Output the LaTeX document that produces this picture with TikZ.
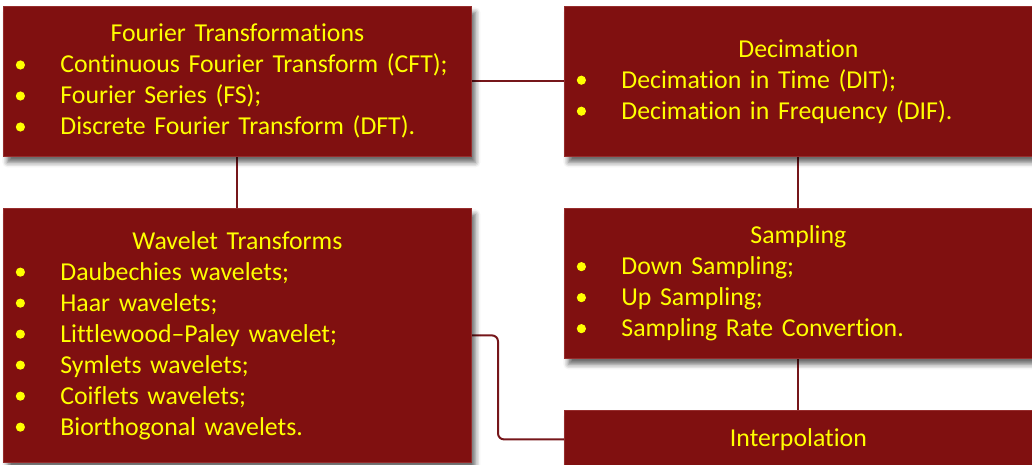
\documentclass[tikz,border=0pt]{standalone}
\usepackage{fontspec}
\setmainfont{Carlito}[Ligatures=NoCommon]
\usetikzlibrary{shadows.blur,backgrounds}
\definecolor{boxred}{RGB}{128,16,16}
\definecolor{boxedge}{RGB}{150,45,45}
\definecolor{linkred}{RGB}{118,22,26}
\definecolor{txtyellow}{RGB}{255,255,0}
% yellow round bullet, centred 8pt above the baseline
\newcommand\bulletdot{\tikz[baseline={(0pt,-8pt)}]\fill[txtyellow] (0pt,0pt) circle (4.6pt);}
\newcommand\entry[1]{\makebox[57pt][l]{\hspace{12.4pt}\bulletdot}#1}
\newcommand\heading[1]{\makebox[\linewidth][c]{#1}}
\begin{document}
\begin{tikzpicture}[x=1pt,y=-1pt,
  card/.style={rectangle, fill=boxred, draw=boxedge, line width=0.8pt,
    anchor=north west, minimum width=468pt, text width=468pt,
    inner xsep=0pt, inner ysep=0pt, align=left, text=txtyellow,
    font=\setlength\parindent{0pt}\fontsize{25.8}{31}\selectfont,
    blur shadow={shadow xshift=4pt, shadow yshift=-6pt,
      shadow blur radius=5pt, shadow opacity=60}},
  link/.style={draw=linkred, line width=2pt}]
\useasboundingbox (0,0) rectangle (1032,464);

\node[card, minimum height=150pt] (fourier) at (3,6) {%
  \heading{Fourier Transformations}\\
  \entry{Continuous Fourier Transform (CFT);}\\
  \entry{Fourier Series (FS);}\\
  \entry{Discrete Fourier Transform (DFT).}};

\node[card, minimum height=150pt] (decim) at (564,6) {%
  \heading{Decimation}\\
  \entry{Decimation in Time (DIT);}\\
  \entry{Decimation in Frequency (DIF).}};

\node[card, minimum height=254pt] (wave) at (3,208) {%
  \heading{Wavelet Transforms}\\
  \entry{Daubechies wavelets;}\\
  \entry{Haar wavelets;}\\
  \entry{Littlewood--Paley wavelet;}\\
  \entry{Symlets wavelets;}\\
  \entry{Coiflets wavelets;}\\
  \entry{Biorthogonal wavelets.}};

\node[card, minimum height=150pt] (samp) at (564,208) {%
  \heading{Sampling}\\
  \entry{Down Sampling;}\\
  \entry{Up Sampling;}\\
  \entry{Sampling Rate Convertion.}};

\node[card, minimum height=58pt] (interp) at (564,410) {%
  \heading{Interpolation}};

\coordinate (elbow) at (498,0);
\begin{scope}[on background layer]
  \draw[link] (fourier.east) -- (decim.west);
  \draw[link] (fourier.south) -- (wave.north);
  \draw[link] (decim.south) -- (samp.north);
  \draw[link] (samp.south) -- (interp.north);
  \draw[link, rounded corners=6pt] (wave.east) -- (wave.east -| elbow) |- (interp.west);
\end{scope}
\end{tikzpicture}
\end{document}
